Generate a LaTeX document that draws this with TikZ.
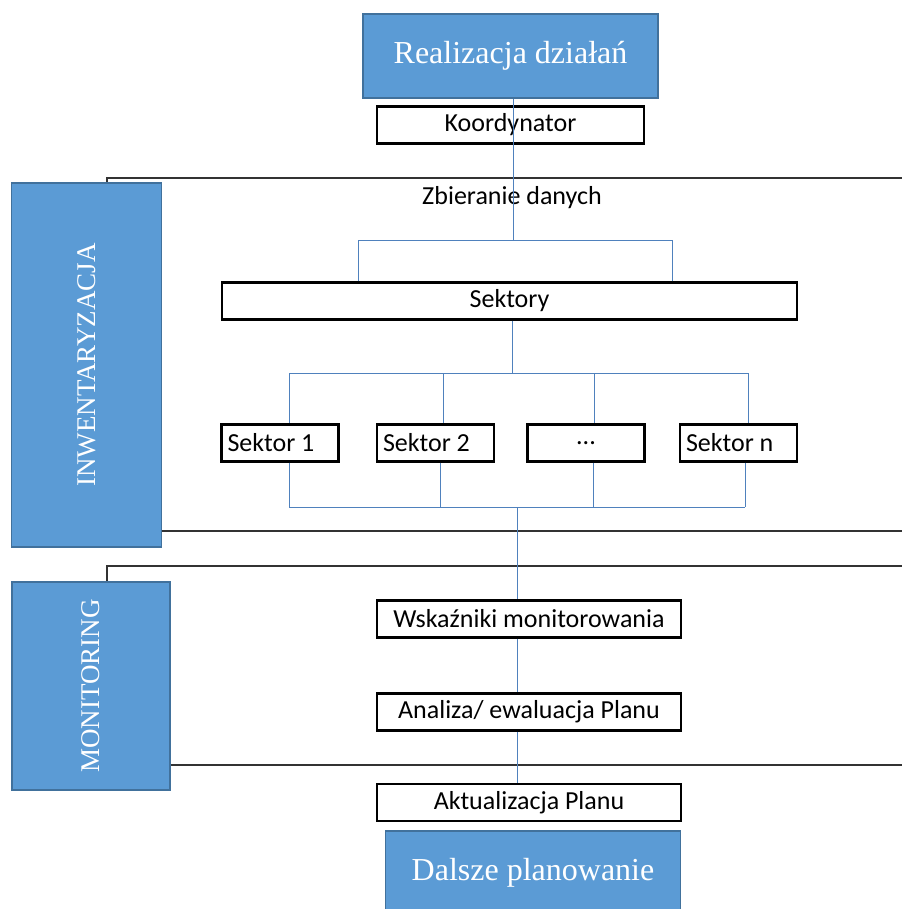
\documentclass[tikz,border=0pt]{standalone}
\usepackage{fontspec}
\setmainfont{Liberation Serif}
\newfontfamily\calibri{Carlito}
\usepackage{tikz}
\usetikzlibrary{positioning}

\definecolor{boxblue}{RGB}{91,155,213}
\definecolor{boxedge}{RGB}{65,113,156}
\definecolor{linkblue}{RGB}{79,129,189}

\begin{document}
\begin{tikzpicture}[x=1pt, y=-1pt,
    bluebox/.style={draw=boxedge, fill=boxblue, line width=1.5pt, text=white, inner sep=0pt,
      font=\fontsize{32}{36}\selectfont},
    sidelabel/.style={text=white, rotate=90, font=\fontsize{27}{30}\selectfont},
    plaintext/.style={font=\calibri\fontsize{26}{30}\selectfont},
    whitebox/.style={plaintext, draw=black, fill=white, line width=2.2pt, inner sep=0pt, minimum height=37},
    sectorbox/.style={whitebox, align=flush left, text width=105, inner xsep=6pt},
    link/.style={draw=linkblue, line width=1pt},
    frame/.style={draw=black!80, line width=1.6pt}]
    \useasboundingbox (0,0) rectangle (902,909);

    % Draw the section frames
    \draw[frame] (107,183) -- (107,178) -- (902,178); % Inwentaryzacja top
    \draw[frame] (162,531) -- (902,531);               % Inwentaryzacja bottom
    \draw[frame] (107,582) -- (107,566) -- (902,566); % Monitoring top
    \draw[frame] (170,765) -- (902,765);               % Monitoring bottom

    % Blue section boxes
    \node[bluebox, minimum width=150, minimum height=364] (inwent) at (86.5,365) {};
    \node[sidelabel] at (inwent.center) {INWENTARYZACJA};
    \node[bluebox, minimum width=158, minimum height=208] (monit) at (91,686) {};
    \node[sidelabel] at (monit.center) {MONITORING};

    % Connector points
    \coordinate (zb) at (513,240);
    \coordinate (zbL) at (358,240);
    \coordinate (zbR) at (672,240);
    \coordinate (sk) at (512,373);
    \coordinate (t1) at (289,373);
    \coordinate (t2) at (443,373);
    \coordinate (t3) at (594,373);
    \coordinate (t4) at (748,373);
    \coordinate (b1) at (289,507);
    \coordinate (b2) at (440,507);
    \coordinate (b3) at (593,507);
    \coordinate (b4) at (745,507);
    \coordinate (bm) at (517,507);

    % Connectors, drawn under the boxes
    \draw[link] (zbL) -- (zbR);
    \draw[link] (t1) -- (t4);
    \draw[link] (b1) -- (b4);

    % Boxes
    \node[bluebox, minimum width=295, minimum height=84] (realizacja) at (510.5,56) {Realizacja działań};
    \node[whitebox, minimum width=267] (koord) at (510.5,125) {Koordynator};
    \node[plaintext] (zbieranie) at (512,198) {Zbieranie danych};
    \node[whitebox, minimum width=575] (sektory) at (509.5,301) {Sektory};
    \node[sectorbox] (s1) at (280,443) {Sektor 1};
    \node[sectorbox] (s2) at (435.5,443) {Sektor 2};
    \node[whitebox, minimum width=117] (s3) at (586,443) {...};
    \node[sectorbox] (s4) at (738.5,443) {Sektor n};
    \node[whitebox, minimum width=304] (wskazniki) at (529,619) {Wskaźniki monitorowania};
    \node[whitebox, minimum width=304] (analiza) at (529,712) {Analiza/ ewaluacja Planu};
    \node[whitebox, minimum width=304] (aktual) at (529,802.5) {Aktualizacja Planu};
    \node[bluebox, minimum width=295, minimum height=84] (dalsze) at (533,873) {Dalsze planowanie};

    % Links between the boxes
    \draw[link] (realizacja.south -| zb) -- (zb);
    \draw[link] (sektory.north -| zbL) -- (zbL);
    \draw[link] (sektory.north -| zbR) -- (zbR);
    \draw[link] (sektory.south -| sk) -- (sk);
    \foreach \i in {1,...,4} {
      \draw[link] (t\i) -- (s\i.north -| t\i);
      \draw[link] (s\i.south -| b\i) -- (b\i);
    }
    \draw[link] (bm) -- (wskazniki.north -| bm);
    \draw[link] (wskazniki.south -| bm) -- (analiza.north -| bm);
    \draw[link] (analiza.south -| bm) -- (aktual.north -| bm);

\end{tikzpicture}
\end{document}
